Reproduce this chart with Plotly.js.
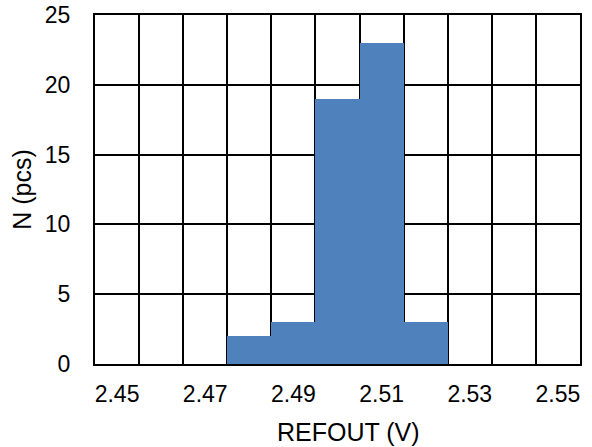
<!DOCTYPE html>
<html>
<head>
<meta charset="utf-8">
<script src="https://cdn.plot.ly/plotly-3.0.1.min.js"></script>
<style>html,body{margin:0;padding:0;background:#fff}#chart{width:592px;height:447px}</style>
</head>
<body>
<div id="chart"></div>
<script>
const binCenters = [2.45, 2.46, 2.47, 2.48, 2.49, 2.50, 2.51, 2.52, 2.53, 2.54, 2.55];
const counts = [0, 0, 0, 2, 3, 19, 23, 3, 0, 0, 0];
const xTickVals = [2.45, 2.47, 2.49, 2.51, 2.53, 2.55];
const xTickText = ['2.45', '2.47', '2.49', '2.51', '2.53', '2.55'];
const yTickVals = [0, 5, 10, 15, 20, 25];
const xTitle = 'REFOUT (V)';
const yTitle = 'N (pcs)';

const font = 'Arial, "Liberation Sans", sans-serif';

const trace = {
  type: 'bar',
  x: binCenters,
  y: counts,
  marker: {color: '#4F81BD', line: {width: 0}},
  hoverinfo: 'x+y'
};

const layout = {
  width: 592, height: 447,
  margin: {l: 95, r: 12, t: 15, b: 83},
  paper_bgcolor: '#fff', plot_bgcolor: '#fff',
  bargap: 0,
  showlegend: false,
  font: {family: font, color: '#000', size: 23},
  xaxis: {
    type: 'linear',
    range: [2.445, 2.555],
    tickvals: xTickVals,
    ticktext: xTickText,
    ticks: '',
    ticklabelstandoff: 8,
    showgrid: false,
    zeroline: false,
    showline: true, mirror: true, linecolor: '#000', linewidth: 2,
    tickfont: {size: 23, family: font, color: '#000'},
    minor: {tick0: 2.445, dtick: 0.01, showgrid: true, gridcolor: '#000', gridwidth: 2, ticks: ''}
  },
  yaxis: {
    range: [0, 25],
    tickvals: yTickVals,
    ticks: '',
    ticklabelstandoff: 18,
    showgrid: true, gridcolor: '#000', gridwidth: 2,
    zeroline: false,
    showline: true, mirror: true, linecolor: '#000', linewidth: 2,
    tickfont: {size: 23, family: font, color: '#000'},
    title: {text: yTitle, font: {size: 25, family: font, color: '#000'}, standoff: 6}
  },
  annotations: [{
    text: xTitle,
    xref: 'paper', yref: 'paper',
    x: 0.523, y: 0,
    xanchor: 'center', yanchor: 'middle',
    yshift: -68,
    showarrow: false,
    font: {size: 25, family: font, color: '#000'}
  }]
};

Plotly.newPlot('chart', [trace], layout, {displayModeBar: false, staticPlot: true});
</script>
</body>
</html>
